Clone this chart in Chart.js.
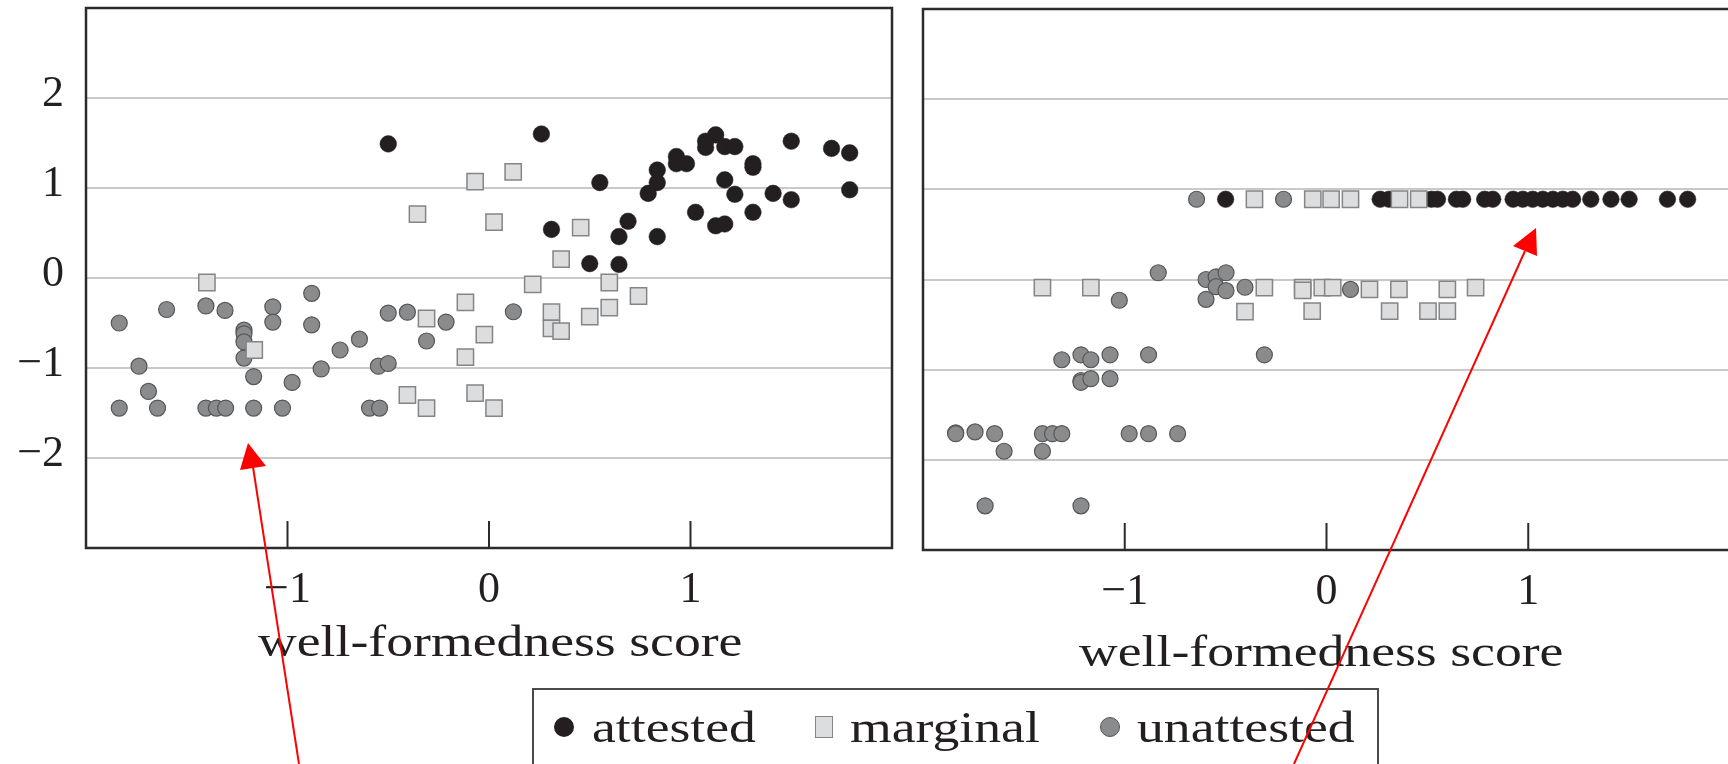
<!DOCTYPE html>
<html>
<head>
<meta charset="utf-8">
<title>well-formedness score</title>
<script src="https://cdn.jsdelivr.net/npm/chart.js@4.4.1/dist/chart.umd.min.js"></script>
<style>
  html, body { margin: 0; padding: 0; background: #fff; width: 1728px; height: 764px; overflow: hidden; }
  .panel { position: absolute; top: 0; height: 620px; }
  #leftPanel { left: 0; width: 900px; }
  #rightPanel { left: 900px; width: 838px; }
  .serif-text {
    position: absolute;
    font-family: "Liberation Serif", "Times New Roman", serif;
    font-size: 44px;
    line-height: 44px;
    color: #231f20;
    white-space: nowrap;
    transform-origin: 0 0;
    transform: scaleX(1.22);
  }
  #legendBox {
    position: absolute; left: 532px; top: 688px; width: 847px; height: 120px;
    border: 2px solid #4a4a4a; box-sizing: border-box;
  }
  .legend-mark { position: absolute; box-sizing: border-box; }
  #arrows { position: absolute; left: 0; top: 0; pointer-events: none; }
</style>
</head>
<body>
<div id="leftPanel" class="panel"><canvas id="leftChart"></canvas></div>
<div id="rightPanel" class="panel"><canvas id="rightChart"></canvas></div>

<div class="serif-text" style="left:258px; top:620px;">well-formedness score</div>
<div class="serif-text" style="left:1079px; top:630px;">well-formedness score</div>

<div id="legendBox"></div>
<div class="legend-mark" style="left:554px; top:717px; width:20px; height:20px; border-radius:50%; background:#231f20;"></div>
<div class="serif-text" style="left:592px; top:706px;">attested</div>
<div class="legend-mark" style="left:815px; top:716px; width:18px; height:22px; background:#dcddde; border:1.5px solid #858585;"></div>
<div class="serif-text" style="left:850px; top:706px;">marginal</div>
<div class="legend-mark" style="left:1100px; top:717px; width:20px; height:20px; border-radius:50%; background:#8a8b8d; border:1.2px solid #555657;"></div>
<div class="serif-text" style="left:1137px; top:706px;">unattested</div>

<svg id="arrows" width="1728" height="764">
  <line x1="253" y1="467" x2="299" y2="764" stroke="#ff0000" stroke-width="2"/>
  <polygon points="248,443 240,470 266,466" fill="#ff0000"/>
  <line x1="1525" y1="251" x2="1294" y2="764" stroke="#ff0000" stroke-width="2"/>
  <polygon points="1536,228 1513,246 1537,256" fill="#ff0000"/>
</svg>

<script>
const xTicksShown = [-1, 0, 1];
const yTicksShown = [-2, -1, 0, 1, 2];

// left panel: [score, y]
const leftAttested = [
  [-0.50, 1.49], [0.26, 1.60], [0.55, 1.06], [0.31, 0.54], [0.50, 0.16], [0.645, 0.15],
  [0.645, 0.46], [0.69, 0.63], [0.835, 0.46], [0.79, 0.94], [0.835, 1.06], [0.835, 1.20],
  [0.93, 1.35], [0.93, 1.27], [0.98, 1.27], [1.025, 0.73], [1.075, 1.52], [1.075, 1.45],
  [1.125, 1.59], [1.17, 1.46], [1.22, 1.46], [1.17, 1.09], [1.22, 0.93], [1.125, 0.58],
  [1.17, 0.60], [1.31, 1.27], [1.31, 1.23], [1.31, 0.73], [1.41, 0.94], [1.50, 1.52],
  [1.50, 0.87], [1.70, 1.44], [1.79, 1.39], [1.79, 0.98]
];
const leftMarginal = [
  [-1.40, -0.05], [-1.165, -0.80], [-0.405, -1.30], [-0.31, -1.445], [-0.355, 0.71],
  [-0.31, -0.45], [-0.117, -0.27], [-0.023, -0.63], [-0.117, -0.88], [-0.069, -1.28],
  [0.025, -1.445], [-0.069, 1.07], [0.12, 1.18], [0.025, 0.62], [0.217, -0.07],
  [0.31, -0.38], [0.31, -0.56], [0.358, -0.59], [0.358, 0.21], [0.455, 0.56],
  [0.50, -0.43], [0.597, -0.33], [0.597, -0.05], [0.742, -0.20]
];
const leftUnattested = [
  [-1.835, -0.50], [-1.60, -0.35], [-1.405, -0.31], [-1.31, -0.36], [-1.073, -0.32],
  [-1.073, -0.49], [-0.88, -0.17], [-0.88, -0.52], [-1.216, -0.58], [-1.216, -0.62],
  [-1.216, -0.71], [-1.216, -0.89], [-1.737, -0.98], [-1.69, -1.26], [-1.835, -1.445],
  [-1.645, -1.445], [-1.405, -1.445], [-1.353, -1.445], [-1.307, -1.445], [-1.168, -1.445],
  [-1.025, -1.445], [-1.168, -1.095], [-0.977, -1.16], [-0.833, -1.01], [-0.739, -0.80],
  [-0.643, -0.68], [-0.549, -0.98], [-0.50, -0.95], [-0.593, -1.445], [-0.543, -1.445],
  [-0.50, -0.39], [-0.405, -0.38], [-0.213, -0.49], [-0.31, -0.70], [0.121, -0.375]
];

// right panel
const rightAttested = [
  [-0.50, 0.89], [0.266, 0.89], [0.31, 0.89], [0.52, 0.89], [0.55, 0.89], [0.644, 0.89],
  [0.675, 0.89], [0.784, 0.89], [0.824, 0.89], [0.925, 0.89], [0.973, 0.89], [1.022, 0.89],
  [1.072, 0.89], [1.122, 0.89], [1.171, 0.89], [1.22, 0.89], [1.31, 0.89], [1.41, 0.89],
  [1.50, 0.89], [1.69, 0.89], [1.79, 0.89]
];
const rightMarginal = [
  [-0.357, 0.89], [-0.068, 0.89], [0.023, 0.89], [0.119, 0.89], [0.362, 0.89], [0.457, 0.89],
  [-1.408, -0.09], [-1.168, -0.09], [-0.308, -0.09], [-0.118, -0.09], [-0.118, -0.12],
  [-0.021, -0.09], [0.031, -0.09], [0.213, -0.11], [0.359, -0.11], [0.599, -0.11], [0.739, -0.09],
  [-0.404, -0.355], [-0.071, -0.35], [0.313, -0.35], [0.503, -0.35], [0.599, -0.35]
];
const rightUnattested = [
  [-0.644, 0.89], [-0.213, 0.89],
  [-0.834, 0.075], [-0.597, 0.0], [-0.547, 0.03], [-0.498, 0.075], [-0.547, -0.08],
  [-0.498, -0.124], [-0.404, -0.086], [-0.597, -0.22], [-1.027, -0.23], [0.119, -0.11],
  [-1.312, -0.89], [-1.217, -0.835], [-1.168, -0.89], [-1.073, -0.835], [-0.882, -0.835], [-0.308, -0.835],
  [-1.217, -1.12], [-1.217, -1.14], [-1.168, -1.10], [-1.073, -1.10],
  [-1.838, -1.70], [-1.838, -1.71], [-1.742, -1.69], [-1.645, -1.71], [-1.598, -1.905],
  [-1.408, -1.71], [-1.358, -1.71], [-1.312, -1.71], [-1.408, -1.905], [-0.978, -1.71],
  [-0.882, -1.71], [-0.738, -1.71],
  [-1.692, -2.51], [-1.217, -2.51]
];

const tickFont = { family: "'Liberation Serif', 'Times New Roman', serif", size: 44 };
const inkColor = "#231f20";

function toPoints(pairs) {
  return pairs.map(([x, y]) => ({ x, y }));
}

function tickLabel(v) {
  return v < 0 ? "\u2212" + Math.abs(v) : String(v);
}

function noEdgePadding(scale) {
  scale.paddingTop = 0;
  scale.paddingBottom = 0;
  scale.paddingLeft = 0;
  scale.paddingRight = 0;
}

const frameAndTicks = {
  id: "frameAndTicks",
  afterDraw(chart) {
    const { ctx, chartArea: a, scales } = chart;
    ctx.save();
    ctx.strokeStyle = "#2b2b2b";
    ctx.lineWidth = 2;
    ctx.beginPath();
    xTicksShown.forEach((v) => {
      const px = scales.x.getPixelForValue(v);
      ctx.moveTo(px, a.bottom);
      ctx.lineTo(px, a.bottom - 27);
    });
    ctx.stroke();
    ctx.lineWidth = 2.5;
    ctx.strokeRect(a.left, a.top, a.right - a.left, a.bottom - a.top);
    ctx.restore();
  }
};

function buildDatasets(attested, marginal, unattested) {
  return [
    {
      label: "marginal", data: toPoints(marginal), order: 0,
      pointStyle: "rect", pointRadius: 11.5, pointHoverRadius: 11.5,
      backgroundColor: "#dcddde", borderColor: "#858585", borderWidth: 1.5
    },
    {
      label: "unattested", data: toPoints(unattested), order: 1,
      pointStyle: "circle", pointRadius: 8, pointHoverRadius: 8,
      backgroundColor: "#8a8b8d", borderColor: "#555657", borderWidth: 1.2
    },
    {
      label: "attested", data: toPoints(attested), order: 2,
      pointStyle: "circle", pointRadius: 8.3, pointHoverRadius: 8.3,
      backgroundColor: inkColor, borderColor: inkColor, borderWidth: 0.5
    }
  ];
}

function buildChart(canvasId, datasets, cfg) {
  return new Chart(document.getElementById(canvasId), {
    type: "scatter",
    data: { datasets },
    plugins: [frameAndTicks],
    options: {
      responsive: true,
      maintainAspectRatio: false,
      animation: false,
      events: [],
      layout: { autoPadding: false, padding: { top: cfg.top, right: 8, left: 0, bottom: 0 } },
      plugins: { legend: { display: false }, tooltip: { enabled: false } },
      scales: {
        x: {
          type: "linear", min: -2, max: 2,
          grid: { display: false },
          border: { display: false },
          ticks: {
            stepSize: 1, padding: 8, color: inkColor, font: tickFont,
            autoSkip: false, maxRotation: 0,
            callback: (v) => xTicksShown.includes(Math.round(v * 100) / 100) ? tickLabel(v) : ""
          },
          afterFit: (scale) => { scale.height = cfg.xHeight; noEdgePadding(scale); }
        },
        y: {
          type: "linear", min: -3, max: 3,
          grid: {
            drawTicks: false, lineWidth: 2,
            color: (c) => c.tick && yTicksShown.includes(Math.round(c.tick.value)) ? "#c9c9c9" : "rgba(0,0,0,0)"
          },
          border: { display: false },
          ticks: {
            display: cfg.showY, stepSize: 1, padding: 22, labelOffset: -4, color: inkColor, font: tickFont,
            callback: (v) => yTicksShown.includes(Math.round(v * 100) / 100) ? tickLabel(v) : ""
          },
          afterFit: (scale) => { scale.width = cfg.yWidth; noEdgePadding(scale); }
        }
      }
    }
  });
}

buildChart("leftChart", buildDatasets(leftAttested, leftMarginal, leftUnattested),
  { top: 8, xHeight: 72, yWidth: 86, showY: true });
buildChart("rightChart", buildDatasets(rightAttested, rightMarginal, rightUnattested),
  { top: 9, xHeight: 70, yWidth: 23, showY: false });
</script>
</body>
</html>
